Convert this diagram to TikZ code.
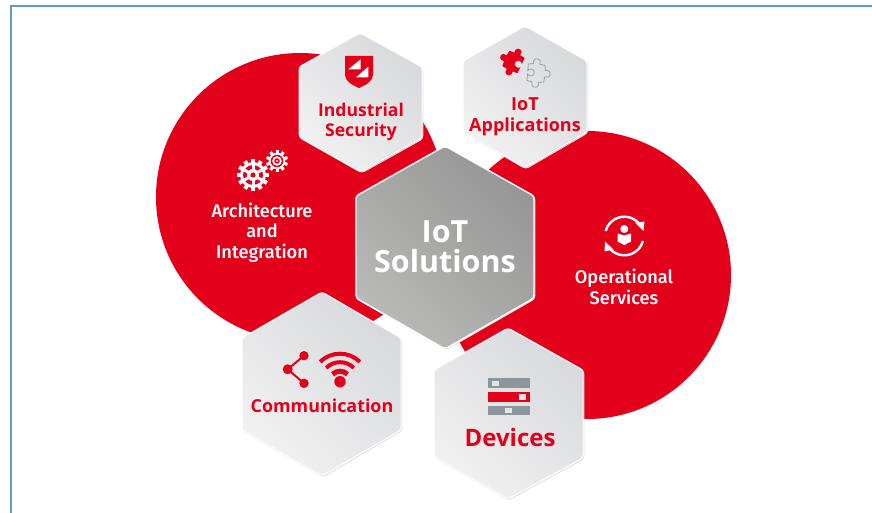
\documentclass[tikz,border=0pt]{standalone}
\usepackage{fontspec}
\setmainfont{Open Sans}
\newfontfamily\medfont{Fira Sans Medium}
\usetikzlibrary{calc}
\definecolor{brandred}{HTML}{E2001A}
\definecolor{frameteal}{HTML}{5F9CB8}
\definecolor{barGray}{HTML}{8C969C}
\definecolor{slotGray}{HTML}{E6E6E6}
\definecolor{hexA}{HTML}{F1F1F1}
\definecolor{hexB}{HTML}{D8D9DC}
\definecolor{coreA}{HTML}{B9B9B7}
\definecolor{coreB}{HTML}{969696}
\tikzset{
  blob/.style={fill=brandred,draw=none},
  hexlight/.style={rounded corners=3pt,draw=white,line width=1pt,bottom color=hexA,top color=hexB,shading angle=-45},
  hexcore/.style={rounded corners=3pt,draw=white,line width=1.4pt,bottom color=coreA,top color=coreB,shading angle=-45},
  hexshade/.style={rounded corners=3pt,draw=black!12,line width=1pt,fill=none},
  redlabel/.style={text=brandred,align=center,inner sep=0pt},
  whitelabel/.style={text=white,align=center,inner sep=0pt},
  iconline/.style={draw=brandred,line width=2pt},
  whiteline/.style={draw=white,line width=2.4pt},
}
\newcommand{\hexcell}[7]{%
  \draw[hexshade] ([shift={(.8,.8)}]#2) -- ([shift={(.8,.8)}]#3) -- ([shift={(.8,.8)}]#4) -- ([shift={(.8,.8)}]#5) -- ([shift={(.8,.8)}]#6) -- ([shift={(.8,.8)}]#7) -- cycle;
  \draw[#1] (#2) -- (#3) -- (#4) -- (#5) -- (#6) -- (#7) -- cycle;}
\newcommand{\puzzlepath}{(-7,-7) -- (-2.6,-7.5) arc[start angle=150,end angle=390,radius=3] -- (7,-7) -- (7,-1.5) arc[start angle=-30,end angle=-330,radius=3] -- (7,7) -- (2.6,7.5) arc[start angle=-30,end angle=210,radius=3] -- (-7,7) -- (-7.5,2.6) arc[start angle=60,end angle=300,radius=3] -- cycle}
\begin{document}
\begin{tikzpicture}[x=1pt,y=-1pt]
\useasboundingbox (0,0) rectangle (872,513);
\fill[white] (0,0) rectangle (872,513);
\draw[frameteal,line width=2pt] (10.5,513) -- (10.5,6) -- (872,6);
% red discs
\fill[blob] (300,197) circle[radius=144];
\fill[blob] (587,275) circle[radius=144];
% hexagons
\hexcell{hexlight}{360,33}{422,67}{422,138}{361,172}{299,137}{299,67}
\hexcell{hexlight}{525,26}{587,61}{587,132}{525,168}{463,132}{463,61}
\hexcell{hexcore}{445,146}{534,196}{534,298}{445,349}{356,298}{356,196}
\hexcell{hexlight}{322,292}{401,338}{401,430}{322,476}{242,430}{242,338}
\hexcell{hexlight}{508,328}{583,370}{583,458}{508,499}{434,457}{434,370}
% labels
\node[redlabel,font=\bfseries\fontsize{17.6}{20}\selectfont] (sec) at (361,121.5) {Industrial\\Security};
\node[redlabel,font=\bfseries\fontsize{18}{20.5}\selectfont] (app) at (525,116.5) {IoT\\Applications};
\node[redlabel,font=\bfseries\fontsize{17.9}{20}\selectfont] (com) at (322,406) {Communication};
\node[redlabel,font=\bfseries\fontsize{24}{26}\selectfont] (dev) at (510,437) {Devices};
\node[whitelabel,font=\medfont\fontsize{18.2}{20.5}\selectfont] (arc) at (262,232.5) {Architecture\\and\\Integration};
\node[whitelabel,font=\medfont\fontsize{18.2}{20.5}\selectfont] (ops) at (624,287) {Operational\\Services};
\node[text=white,font=\bfseries\fontsize{30.5}{30}\selectfont,align=center,inner sep=0pt] (core) at (445,247) {IoT\\Solutions};
% shield icon
\fill[brandred] (345,56) -- (373,56) -- (373,75) .. controls (373,81) and (366,85) .. (359,88) .. controls (352,85) and (345,81) .. (345,75) -- cycle;
\fill[white] (360.7,59.3) -- (348.3,69.3) -- (360.7,69.3) -- cycle;
\fill[white] (368.3,66.7) -- (356,77.3) -- (368.3,77.3) -- cycle;
% gears
\begin{scope}[shift={(253,175)}]
  \foreach \a in {0,30,...,330} \fill[white,rotate=\a] (-2,-16) rectangle (2,-10);
  \fill[white] (0,0) circle[radius=13];
  \fill[brandred] (0,0) circle[radius=10];
  \fill[white] (0,0) circle[radius=6];
  \foreach \a in {0,60,...,300} \fill[white,rotate=\a] (-1.5,-11) rectangle (1.5,-5);
  \fill[brandred] (0,0) circle[radius=2.6];
\end{scope}
\begin{scope}[shift={(277,161)}]
  \foreach \a in {0,36,...,324} \fill[white,rotate=\a] (-1.5,-11) rectangle (1.5,-7);
  \fill[white] (0,0) circle[radius=8.3];
  \fill[brandred] (0,0) circle[radius=6.3];
  \fill[white] (0,0) circle[radius=4.8];
  \fill[brandred] (0,0) circle[radius=2.8];
  \fill[white] (0,0) circle[radius=1.2];
\end{scope}
% puzzle icon
\begin{scope}[shift={(513.5,62)},rotate=-25,x=1.2pt,y=-1.2pt]
  \fill[brandred] \puzzlepath;
\end{scope}
\begin{scope}[shift={(536,73)},rotate=175,x=1.2pt,y=-1.2pt]
  \draw[barGray,line width=.7pt] \puzzlepath;
\end{scope}
% operational services icon
\coordinate (ring) at (624.3,236);
\draw[whiteline] ($(ring)+(195:19.3)$) arc[start angle=195,end angle=330,radius=19.3];
\draw[whiteline] ($(ring)+(15:19.3)$) arc[start angle=15,end angle=150,radius=19.3];
\fill[white] (635,222.7) -- (644.5,221.5) -- (643.5,231) -- cycle;
\fill[white] (613.5,249.5) -- (604.5,251.5) -- (605,241.5) -- cycle;
\fill[white] (624.3,229) circle[radius=4];
\fill[white] (617.5,233.5) -- (624.3,235.5) -- (631,233.5) -- (631,241.5) .. controls (628,243) and (626,244) .. (624.3,245.2) .. controls (622.5,244) and (620.5,243) .. (617.5,241.5) -- cycle;
% share icon
\draw[iconline] (304,355.7) -- (287.7,369.3) -- (304,383.3);
\fill[brandred] (287.7,369.3) circle[radius=5];
\fill[brandred] (304,355.7) circle[radius=4.7];
\fill[brandred] (304,383.3) circle[radius=4.7];
% wifi icon
\coordinate (wifi) at (340,381.7);
\fill[brandred] (wifi) circle[radius=5.7];
\draw[brandred,line width=4pt] ($(wifi)+(225:28)$) arc[start angle=225,end angle=315,radius=28];
\draw[brandred,line width=4pt] ($(wifi)+(225:19.5)$) arc[start angle=225,end angle=315,radius=19.5];
\draw[brandred,line width=5pt] ($(wifi)+(225:10.5)$) arc[start angle=225,end angle=315,radius=10.5];
% device bars
\fill[barGray] (488.3,378.3) rectangle (529.7,388);
\fill[brandred] (488.3,392) rectangle (529.7,401.7);
\fill[barGray] (488.3,405.7) rectangle (529.7,415.3);
\fill[slotGray] (492,380.7) rectangle (498.7,385.7);
\fill[slotGray] (519.3,394) rectangle (526,399.7);
\fill[slotGray] (505,407.7) rectangle (511.7,413);
\end{tikzpicture}
\end{document}
